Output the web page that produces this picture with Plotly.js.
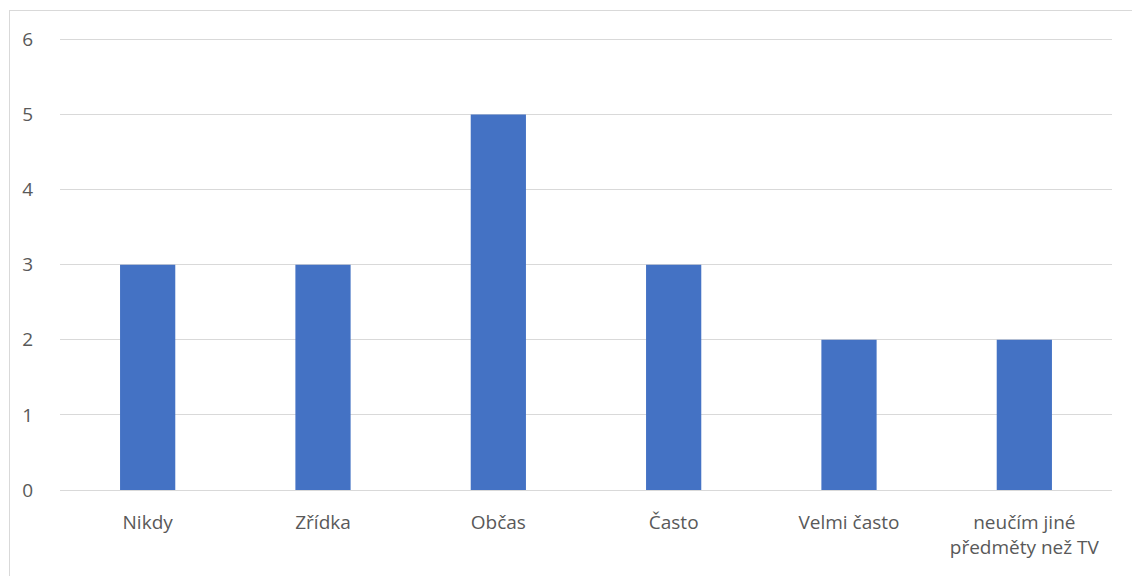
<!DOCTYPE html>
<html><head><meta charset="utf-8">
<script src="https://cdn.plot.ly/plotly-3.0.1.min.js"></script>
<style>
html,body{margin:0;padding:0;background:#fff;}
#frame{position:absolute;left:9px;top:10px;width:1200px;height:700px;border:1px solid #d9d9d9;pointer-events:none;}
#chart{position:absolute;left:0;top:0;width:1132px;height:576px;}
</style></head>
<body>
<div id="chart"></div>
<div id="frame"></div>
<script>
const categories = ["Nikdy", "Zřídka", "Občas", "Často", "Velmi často", "neučím jiné<br>předměty než TV"];
const values = [3, 3, 5, 3, 2, 2];
const yTicks = [0, 1, 2, 3, 4, 5, 6];

const fontFam = "'Open Sans', 'Noto Sans', sans-serif";
Plotly.newPlot('chart', [{
  type: 'bar',
  x: categories,
  y: values,
  marker: {color: '#4472C4'},
  hoverinfo: 'x+y'
}], {
  width: 1132, height: 576,
  margin: {l: 60, r: 20, t: 32, b: 86, pad: 0},
  paper_bgcolor: 'rgba(0,0,0,0)',
  plot_bgcolor: 'rgba(0,0,0,0)',
  bargap: 0.685,
  showlegend: false,
  font: {family: fontFam, size: 19, color: '#595959'},
  xaxis: {
    type: 'category',
    showgrid: false,
    showline: true, linecolor: '#d9d9d9', linewidth: 1,
    ticks: 'outside', ticklen: 15, tickcolor: 'rgba(0,0,0,0)',
    tickfont: {family: fontFam, size: 19, color: '#595959'},
    zeroline: false
  },
  yaxis: {
    range: [0, 6.1],
    tickvals: yTicks,
    ticktext: yTicks.map(String),
    showgrid: true, gridcolor: '#d9d9d9', gridwidth: 1,
    zeroline: false, showline: false,
    ticks: 'outside', ticklen: 22, tickcolor: 'rgba(0,0,0,0)',
    tickfont: {family: fontFam, size: 19, color: '#595959'}
  }
}, {displayModeBar: false, staticPlot: true});
</script>
</body></html>
